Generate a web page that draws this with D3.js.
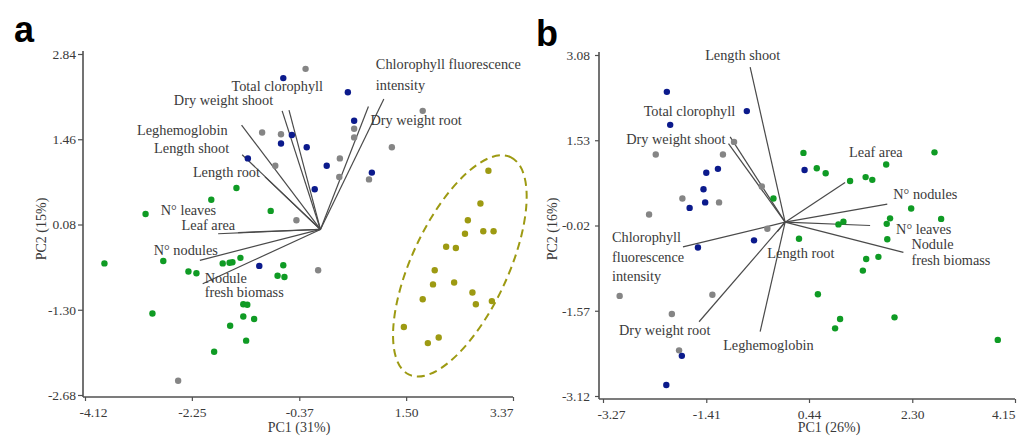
<!DOCTYPE html>
<html><head><meta charset="utf-8">
<script src="https://cdn.jsdelivr.net/npm/d3@7"></script>
<style>body{margin:0;background:#fff}svg{display:block}</style>
</head><body>
<svg id="c" width="1026" height="438"></svg>
<script>
// ---------- Panel a data (PC1, PC2) ----------
const aGreen = [[-3.78,-0.55],[-3.06,0.25],[-2.94,-1.36],[-2.75,-0.51],[-2.31,-0.68],[-2.17,-0.71],[-1.91,0.48],[-1.86,-1.98],[-1.71,-0.55],[-1.59,-0.54],[-1.54,-0.53],[-1.47,0.67],[-1.40,-0.46],[-1.58,-1.56],[-1.35,-1.21],[-1.28,-1.22],[-1.35,-1.41],[-1.16,-1.45],[-1.30,-1.80],[-0.87,0.30],[-0.65,-0.58],[-0.75,-0.75],[-0.63,-0.77]];
const aBlue = [[-0.65,2.45],[0.48,2.22],[0.59,1.76],[-1.27,1.15],[-0.50,1.53],[-0.69,1.39],[-0.24,1.33],[0.11,1.03],[0.90,0.92],[-0.10,0.65],[-1.07,-0.59]];
const aGray = [[-0.26,2.60],[1.79,1.92],[0.59,1.63],[0.59,1.49],[1.25,1.33],[-1.02,1.57],[-0.69,1.54],[0.34,1.15],[-0.79,1.03],[0.85,0.81],[0.33,0.85],[-0.42,0.15],[-0.04,-0.66],[-2.49,-2.45]];
const aOlive = [[2.94,0.95],[2.80,0.42],[2.58,0.15],[2.53,-0.07],[2.85,-0.03],[3.03,-0.03],[2.20,-0.28],[2.37,-0.30],[2.00,-0.66],[1.97,-0.89],[2.34,-0.86],[2.66,-1.02],[2.72,-1.21],[3.00,-1.16],[1.79,-1.13],[1.46,-1.58],[2.07,-1.75],[1.88,-1.84]];
const aVars = ["Chlorophyll fluorescence intensity","Dry weight root","Total clorophyll","Dry weight shoot","Leghemoglobin","Length shoot","Length root","N° leaves","Leaf area","N° nodules","Nodule fresh biomass"];
const aPC1 = [1.11,0.84,-0.55,-0.67,-1.38,-1.37,-0.97,-1.79,-1.44,-2.11,-2.06];
const aPC2 = [2.11,1.99,1.93,1.92,1.69,1.21,0.85,-0.07,-0.05,-0.50,-0.88];
const aXTicks = [-4.12,-2.25,-0.37,1.50,3.37];
const aYTicks = [-2.68,-1.30,0.08,1.46,2.84];
const aEllipseCenter = [2.44,-0.59];

// ---------- Panel b data ----------
const bGreen = [[-0.20,0.47],[0.34,1.30],[2.70,1.31],[0.58,1.02],[0.74,0.93],[1.83,1.09],[1.18,0.79],[1.46,0.86],[1.58,0.81],[2.28,0.29],[1.90,0.11],[1.84,0.01],[2.82,0.10],[0.97,0.00],[1.06,0.05],[0.26,-0.26],[1.85,-0.27],[1.47,-0.63],[1.69,-0.59],[1.41,-0.84],[0.60,-1.27],[1.00,-1.72],[0.91,-1.89],[1.98,-1.69],[3.84,-2.10]];
const bBlue = [[-2.12,2.41],[-0.68,2.06],[-2.06,1.81],[-1.20,1.01],[-1.41,0.94],[-1.46,0.64],[-1.71,0.30],[-1.43,0.40],[-1.56,-0.42],[-0.55,-0.29],[-1.85,-2.39],[-2.13,-2.92],[0.36,0.99]];
const bGray = [[-0.91,1.50],[-2.32,1.27],[-1.11,1.27],[-0.41,0.69],[-1.84,0.47],[-1.18,0.40],[-2.44,0.18],[-0.31,-0.08],[-2.97,-1.30],[-1.30,-1.28],[-2.03,-1.63],[-1.90,-2.29]];
const bVars = ["Length shoot","Total clorophyll","Dry weight shoot","Leaf area","N° nodules","N° leaves","Nodule fresh biomass","Length root","Leghemoglobin","Dry weight root","Chlorophyll fluorescence intensity"];
const bPC1 = [-0.62,-0.98,-1.01,1.09,1.85,1.54,2.14,-0.13,-0.44,-1.54,-1.83];
const bPC2 = [2.86,1.59,1.47,0.76,0.37,-0.02,-0.51,-0.13,-1.95,-1.77,-0.41];
const bOrigin = [0.01,0.04];
const bXTicks = [-3.27,-1.41,0.44,2.30,4.15];
const bYTicks = [-3.12,-1.57,-0.02,1.53,3.08];

// ---------- label layout (pixel offsets from vector tips) ----------
const aLabelLayout = [
  {lines:["Chlorophyll fluorescence","intensity"],dx:-8,dy:-30,anchor:"start",lh:21},
  {lines:["Dry weight root"],dx:2,dy:18,anchor:"start"},
  {lines:["Total clorophyll"],dx:34,dy:-19,anchor:"end"},
  {lines:["Dry weight shoot"],dx:-9,dy:-5.5,anchor:"end"},
  {lines:["Leghemoglobin"],dx:-14,dy:10,anchor:"end"},
  {lines:["Length shoot"],dx:-13,dy:-1.5,anchor:"end"},
  {lines:["Length root"],dx:-5,dy:0,anchor:"end"},
  {lines:["N° leaves"],dx:-2,dy:-19,anchor:"end"},
  {lines:["Leaf area"],dx:-3,dy:-3,anchor:"end"},
  {lines:["N° nodules"],dx:18,dy:-5.5,anchor:"end"},
  {lines:["Nodule","fresh biomass"],dx:2,dy:-1,anchor:"start",lh:14}
];
const bLabelLayout = [
  {lines:["Length shoot"],dx:-45,dy:-7,anchor:"start"},
  {lines:["Total clorophyll"],dx:5,dy:-21,anchor:"end"},
  {lines:["Dry weight shoot"],dx:-3,dy:0.7,anchor:"end"},
  {lines:["Leaf area"],dx:4,dy:-26,anchor:"start"},
  {lines:["N° nodules"],dx:6,dy:-5,anchor:"start"},
  {lines:["N° leaves"],dx:26,dy:8.5,anchor:"start"},
  {lines:["Nodule","fresh biomass"],dx:8,dy:-3,anchor:"start",lh:15.5},
  {lines:["Length root"],dx:-10,dy:26,anchor:"start"},
  {lines:["Leghemoglobin"],dx:-37,dy:18,anchor:"start"},
  {lines:["Dry weight root"],dx:-80,dy:13,anchor:"start"},
  {lines:["Chlorophyll","fluorescence","intensity"],dx:-71,dy:-5,anchor:"start",lh:19.7}
];

const C = {green:"#0f9b24", blue:"#0b1a8c", gray:"#858585", olive:"#9d9a12", text:"#3a3a3a", axis:"#505050", vec:"#4a4a4a"};
const serif = "'Liberation Serif','Times New Roman',serif";
const svg = d3.select("#c");

function panel(cfg){
  const g = svg.append("g");
  const x = d3.scaleLinear(cfg.xDom, cfg.xRange);
  const y = d3.scaleLinear(cfg.yDom, cfg.yRange);
  const xa = g.append("g").attr("transform",`translate(0,${cfg.xAxisY})`)
    .call(d3.axisBottom(x).tickValues(cfg.xTicks).tickFormat(d=>d.toFixed(2)).tickSize(4).tickSizeOuter(0).tickPadding(6));
  const ya = g.append("g").attr("transform",`translate(${cfg.yAxisX},0)`)
    .call(d3.axisLeft(y).tickValues(cfg.yTicks).tickFormat(d=>d.toFixed(2)).tickSize(cfg.yTickSize).tickSizeOuter(0).tickPadding(cfg.yTickPad));
  [xa,ya].forEach(a=>{
    a.select(".domain").remove();
    a.selectAll("line").attr("stroke",C.axis).attr("stroke-width",1.2);
    a.selectAll("text").attr("fill",C.text).style("font-family",serif).style("font-size","13.5px");
  });
  const xt = xa.selectAll(".tick text").nodes();
  d3.select(xt[0]).attr("text-anchor","start").attr("x",-6);
  d3.select(xt[xt.length-1]).attr("text-anchor","end").attr("x",0);
  g.append("line").attr("x1",cfg.yAxisX).attr("x2",cfg.xRange[1]).attr("y1",cfg.xAxisY).attr("y2",cfg.xAxisY).attr("stroke",C.axis).attr("stroke-width",1.6);
  g.append("line").attr("x1",cfg.yAxisX).attr("x2",cfg.yAxisX).attr("y1",cfg.yRange[1]-3).attr("y2",cfg.xAxisY).attr("stroke",C.axis).attr("stroke-width",1.6);
  g.append("text").attr("x",cfg.xTitleX).attr("y",432).attr("text-anchor","middle").attr("fill",C.text)
    .style("font-family",serif).style("font-size","14px").text(cfg.xTitle);
  g.append("text").attr("transform",`translate(${cfg.yTitleX},229) rotate(-90)`).attr("text-anchor","middle").attr("fill",C.text)
    .style("font-family",serif).style("font-size","14px").text(cfg.yTitle);
  const ox = x(cfg.origin[0]), oy = y(cfg.origin[1]);
  cfg.vars.forEach((v,i)=>{
    g.append("line").attr("x1",ox).attr("y1",oy).attr("x2",x(cfg.pc1[i])).attr("y2",y(cfg.pc2[i])).attr("stroke",C.vec).attr("stroke-width",1.2);
  });
  cfg.groups.forEach(([pts,col])=>{
    g.selectAll(null).data(pts).join("circle").attr("cx",d=>x(d[0])).attr("cy",d=>y(d[1])).attr("r",3.2).attr("fill",col);
  });
  cfg.vars.forEach((v,i)=>{
    const L = cfg.layout[i];
    const ex = x(cfg.pc1[i]), ey = y(cfg.pc2[i]);
    const t = g.append("text").attr("x",ex+L.dx).attr("y",ey+L.dy).attr("text-anchor",L.anchor).attr("fill",C.text)
      .style("font-family",serif).style("font-size","14.3px");
    L.lines.forEach((s,k)=>{
      t.append("tspan").attr("x",ex+L.dx).attr("y",ey+L.dy+k*(L.lh||15)).text(s);
    });
  });
  return {g,x,y};
}

const A = panel({xDom:[-4.12,3.37], xRange:[85,513], yDom:[-2.68,2.84], yRange:[395,54],
  xAxisY:397, yAxisX:83, yTickSize:5, yTickPad:2, xTicks:aXTicks, yTicks:aYTicks,
  xTitle:"PC1 (31%)", yTitle:"PC2 (15%)", xTitleX:299, yTitleX:46, origin:[0,0],
  vars:aVars, pc1:aPC1, pc2:aPC2, layout:aLabelLayout,
  groups:[[aGray,C.gray],[aBlue,C.blue],[aGreen,C.green],[aOlive,C.olive]]});

A.g.append("ellipse").attr("transform",`translate(${A.x(aEllipseCenter[0])},${A.y(aEllipseCenter[1])}) rotate(-65)`)
  .attr("rx",120).attr("ry",48).attr("fill","none").attr("stroke",C.olive).attr("stroke-width",2).attr("stroke-dasharray","8,5");

panel({xDom:[-3.27,4.15], xRange:[603,1015], yDom:[-3.12,3.08], yRange:[396,55],
  xAxisY:399, yAxisX:599, yTickSize:4, yTickPad:5, xTicks:bXTicks, yTicks:bYTicks,
  xTitle:"PC1 (26%)", yTitle:"PC2 (16%)", xTitleX:829, yTitleX:557, origin:bOrigin,
  vars:bVars, pc1:bPC1, pc2:bPC2, layout:bLabelLayout,
  groups:[[bGray,C.gray],[bBlue,C.blue],[bGreen,C.green]]});

svg.append("text").attr("x",14).attr("y",42).style("font-family","'Liberation Sans',Arial,sans-serif").style("font-weight","bold").style("font-size","36px").text("a");
svg.append("text").attr("x",536).attr("y",46).style("font-family","'Liberation Sans',Arial,sans-serif").style("font-weight","bold").style("font-size","36px").text("b");
</script></body></html>
